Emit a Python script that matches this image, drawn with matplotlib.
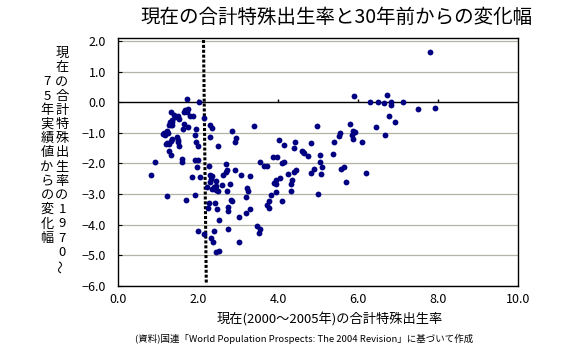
import matplotlib
matplotlib.use('Agg')
import matplotlib.pyplot as plt

plt.rcParams['font.family'] = ['Noto Sans CJK JP', 'DejaVu Sans']

# 現在の合計特殊出生率 (2000-2005)
tfr = [1.72, 2.02, 1.32, 1.66, 1.74, 1.64, 1.71, 1.39, 1.48, 1.42,
       1.80, 1.87, 1.34, 1.29, 1.35, 1.31, 1.26, 1.34, 1.52, 1.64,
       1.62, 1.75, 2.13, 1.94, 1.21, 1.11, 1.17, 1.24, 1.14, 1.91,
       2.29, 2.33, 2.29, 1.46, 1.48, 1.49, 1.35, 1.32, 1.22, 1.27,
       1.20, 1.94, 1.98, 1.52, 1.27, 1.32, 1.58, 1.58, 1.92, 1.99,
       0.92, 1.97, 2.26, 0.82, 1.83, 2.04, 1.21, 1.91, 1.68, 2.26,
       2.24, 1.99, 2.13, 2.38, 2.31, 2.37, 2.43, 2.51, 2.41,
       2.84, 3.40, 2.93, 2.91, 2.49, 4.01, 4.14, 3.86, 3.97, 3.53,
       3.64, 3.72, 4.08, 4.14, 2.69, 2.72, 2.68, 2.91, 2.29, 2.34,
       2.32, 2.29, 2.43, 2.22, 2.38, 2.43, 2.34, 2.44, 2.49, 2.59,
       2.62, 2.79, 2.71, 3.06, 3.29, 3.21, 3.24, 3.18, 2.47, 2.82,
       2.85, 2.74, 2.74, 3.29, 3.18, 3.02, 2.52, 2.74, 3.46, 3.53,
       3.51, 3.02, 3.76, 3.72, 3.77, 3.81, 3.89, 3.94, 3.93, 4.04,
       3.94, 4.09, 4.25,
       4.97, 5.79, 6.44, 5.53, 5.51, 5.86, 5.92, 5.83, 5.87, 6.09,
       5.39, 4.42, 4.81, 4.39, 4.58, 4.62, 4.65, 4.74, 5.04, 5.37,
       5.04, 4.44, 4.39, 4.34, 4.31, 4.31, 4.89, 5.09, 4.82, 5.07,
       5.57, 5.64, 6.18, 5.68, 4.99,
       7.79, 6.72, 6.29, 6.49, 6.64, 6.82, 7.11, 6.82, 7.49, 7.92,
       6.77, 6.92, 6.67, 5.89]

# 1970-75年からの変化幅
change = [0.10, 0.01, -0.32, -0.25, -0.22, -0.33, -0.32, -0.43, -0.45, -0.49,
          -0.45, -0.45, -0.59, -0.64, -0.66, -0.73, -0.75, -0.75, -0.56, -0.71,
          -0.86, -0.82, -0.53, -0.88, -0.95, -1.04, -1.06, -1.01, -1.01, -1.08,
          -0.73, -0.83, -1.15, -1.13, -1.24, -1.30, -1.21, -1.28, -1.32, -1.35,
          -1.36, -1.30, -1.43, -1.44, -1.59, -1.73, -1.84, -1.95, -1.90, -1.90,
          -1.95, -2.12, -2.08, -2.37, -2.44, -2.44, -3.05, -3.02, -3.18, -3.28,
          -3.46, -4.21, -4.31, -4.21, -4.42, -4.55, -4.89, -4.87, -3.29,
          -0.93, -0.77, -1.18, -1.31, -1.43, -1.24, -1.40, -1.80, -1.80, -1.96,
          -2.09, -2.09, -1.99, -1.95, -2.02, -2.21, -2.27, -2.21, -2.39, -2.42,
          -2.51, -2.61, -2.58, -2.77, -2.77, -2.73, -2.83, -2.86, -2.90, -2.71,
          -2.39, -2.67, -2.91, -2.39, -2.42, -2.79, -2.90, -3.08, -3.50, -3.18,
          -3.23, -3.43, -3.56, -3.49, -3.62, -3.75, -3.85, -4.15, -4.05, -4.13,
          -4.28, -4.58, -3.23, -3.35, -3.45, -3.03, -2.64, -2.55, -2.68, -2.48,
          -2.94, -3.23, -2.35,
          -0.77, -0.71, -0.81, -1.00, -1.10, -0.94, -0.98, -1.07, -1.20, -1.31,
          -1.31, -1.31, -1.34, -1.50, -1.59, -1.63, -1.67, -1.76, -1.72, -1.69,
          -1.95, -2.23, -2.29, -2.55, -2.68, -2.90, -2.17, -2.13, -2.31, -2.35,
          -2.17, -2.12, -2.31, -2.61, -3.00,
          1.64, 0.24, 0.00, 0.00, -0.02, 0.00, 0.00, -0.10, -0.23, -0.20,
          -0.46, -0.64, -1.08, 0.21]

# vertical dashed reference line
ref_x = [2.13, 2.20]
ref_y = [2.03, -5.95]

xticks = [0, 2, 4, 6, 8, 10]
yticks = [2, 1, 0, -1, -2, -3, -4, -5, -6]

W, H = 573, 359
fig = plt.figure(figsize=(W / 100, H / 100), dpi=100)
ax = fig.add_axes([118.3 / W, 1 - 286 / H, 400 / W, 247.7 / H])

ax.set_xlim(0, 10)
ax.set_ylim(-6, 2.085)

for v in yticks:
    if v == 0:
        ax.axhline(v, color='black', lw=1, zorder=2)
    else:
        ax.axhline(v, color='#b4b4a6', lw=0.9, zorder=1)

ax.vlines(xticks[1:-1], 0, 0.1, color='black', lw=1, zorder=2)

ax.plot(ref_x, ref_y, color='black', lw=2.2, ls=(0, (1.0, 0.6)), zorder=3)
ax.plot(tfr, change, ls='none', marker='o', ms=4.2, mew=0,
        color='#000080', zorder=4)

ax.set_xticks(xticks)
ax.set_xticklabels(['%.1f' % v for v in xticks])
ax.set_yticks(yticks)
ax.set_yticklabels([('%.1f' % v).replace('-', '\u2212') for v in yticks])
ax.tick_params(axis='x', length=0, pad=5, labelsize=9)
ax.tick_params(axis='y', direction='in', length=3, pad=9, labelsize=9)
for s in ax.spines.values():
    s.set_color('black')
    s.set_linewidth(1)

fig.text(336 / W, 1 - 17 / H, '現在の合計特殊出生率と30年前からの変化幅',
         ha='center', va='center', fontsize=14)
fig.text(330 / W, 1 - 320 / H, '現在(2000～2005年)の合計特殊出生率',
         ha='center', va='center', fontsize=9.5)
fig.text(304 / W, 1 - 339 / H,
         '(資料)国連「World Population Prospects: The 2004 Revision」に基づいて作成',
         ha='center', va='center', fontsize=6.8)

# vertical y label in two columns
cols = [('現在の合計特殊出生率の1970～', 62), ('75年実績値からの変化幅', 47)]
step = 14.2
for text, cx in cols:
    n = len(text)
    for i, ch in enumerate(text):
        cy = 160 + (i - (n - 1) / 2) * step
        rot = 90 if ch == '～' else 0
        fig.text(cx / W, 1 - cy / H, ch, ha='center', va='center',
                 fontsize=9.5, rotation=rot)

fig.savefig('out.png', dpi=100)
